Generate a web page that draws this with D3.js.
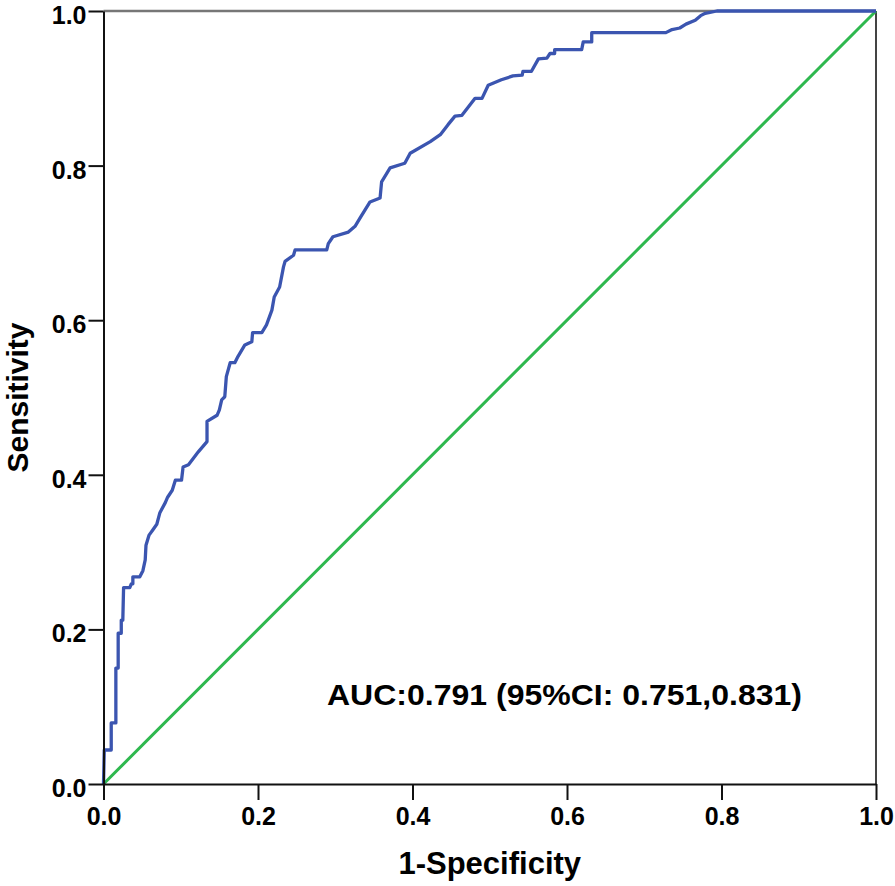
<!DOCTYPE html>
<html>
<head>
<meta charset="utf-8">
<script src="https://cdn.jsdelivr.net/npm/d3@7"></script>
<style>
  html, body { margin: 0; padding: 0; background: #fff; }
  svg { display: block; }
  text { font-family: "Liberation Sans", Arial, sans-serif; font-weight: bold; fill: #000; }
</style>
</head>
<body>
<svg id="chart" width="895" height="886"></svg>
<script>
// ROC curve points (1-Specificity, Sensitivity)
const fpr = [0, 0.001, 0.010, 0.010, 0.016, 0.016, 0.019, 0.019, 0.023, 0.023, 0.025, 0.026, 0.034, 0.036, 0.038, 0.038,
  0.047, 0.051, 0.054, 0.055, 0.059, 0.064, 0.069, 0.073, 0.080, 0.083, 0.089, 0.093, 0.101, 0.103, 0.110, 0.123,
  0.134, 0.134, 0.147, 0.150, 0.153, 0.157, 0.159, 0.164, 0.170, 0.174, 0.183, 0.192, 0.193, 0.205, 0.211, 0.218,
  0.221, 0.228, 0.233, 0.235, 0.246, 0.248, 0.289, 0.291, 0.297, 0.317, 0.326, 0.332, 0.345, 0.358, 0.360, 0.371,
  0.390, 0.397, 0.423, 0.436, 0.446, 0.455, 0.464, 0.481, 0.490, 0.498, 0.515, 0.530, 0.542, 0.543, 0.554, 0.563,
  0.574, 0.578, 0.584, 0.584, 0.619, 0.621, 0.632, 0.632, 0.728, 0.736, 0.746, 0.754, 0.766, 0.773, 0.779, 0.794, 1.0];
const tpr = [0, 0.044, 0.044, 0.079, 0.079, 0.150, 0.150, 0.195, 0.195, 0.212, 0.212, 0.254, 0.254, 0.259, 0.259, 0.268,
  0.268, 0.276, 0.290, 0.309, 0.322, 0.329, 0.336, 0.351, 0.364, 0.371, 0.380, 0.393, 0.393, 0.410, 0.413, 0.430,
  0.443, 0.469, 0.477, 0.484, 0.497, 0.501, 0.527, 0.545, 0.545, 0.553, 0.568, 0.572, 0.584, 0.584, 0.594, 0.613,
  0.630, 0.643, 0.669, 0.676, 0.684, 0.691, 0.691, 0.699, 0.708, 0.714, 0.722, 0.732, 0.753, 0.758, 0.779, 0.797,
  0.803, 0.816, 0.831, 0.840, 0.853, 0.864, 0.865, 0.887, 0.887, 0.904, 0.911, 0.916, 0.917, 0.922, 0.922, 0.938,
  0.939, 0.945, 0.945, 0.950, 0.950, 0.960, 0.960, 0.972, 0.972, 0.976, 0.978, 0.983, 0.988, 0.994, 0.997, 1.0, 1.0];
const refLine = [[0, 0], [1, 1]];
const tickValues = [0, 0.2, 0.4, 0.6, 0.8, 1.0];
const xTitle = "1-Specificity";
const yTitle = "Sensitivity";
const aucLabel = "AUC:0.791 (95%CI: 0.751,0.831)";

const svg = d3.select("#chart");
const x = d3.scaleLinear().domain([0, 1]).range([103.5, 876]);
const y = d3.scaleLinear().domain([0, 1]).range([784, 11]);

// frame (top & right)
svg.append("line").attr("x1", x(0)).attr("x2", x(1)).attr("y1", y(1)).attr("y2", y(1))
  .attr("stroke", "#777").attr("stroke-width", 2.5);
svg.append("line").attr("x1", x(1)).attr("x2", x(1)).attr("y1", y(1)).attr("y2", y(0))
  .attr("stroke", "#444").attr("stroke-width", 2);

// reference diagonal
svg.append("path").datum(refLine)
  .attr("d", d3.line().x(d => x(d[0])).y(d => y(d[1])))
  .attr("fill", "none").attr("stroke", "#2eb84e").attr("stroke-width", 3);

// ROC curve
const pts = fpr.map((f, i) => [f, tpr[i]]);
svg.append("path").datum(pts)
  .attr("d", d3.line().x(d => x(d[0])).y(d => y(d[1])))
  .attr("fill", "none").attr("stroke", "#3b55b0").attr("stroke-width", 3.3)
  .attr("stroke-linejoin", "round");

// axes
const fmt = d3.format(".1f");
const xAxis = svg.append("g").attr("transform", `translate(0,${y(0)})`)
  .call(d3.axisBottom(x).tickValues(tickValues).tickFormat(fmt).tickSize(16).tickPadding(7).tickSizeOuter(0));
const yAxis = svg.append("g").attr("transform", `translate(${x(0)},0)`)
  .call(d3.axisLeft(y).tickValues(tickValues).tickFormat(fmt).tickSize(15).tickPadding(2).tickSizeOuter(0));
[xAxis, yAxis].forEach(g => {
  g.select(".domain").attr("stroke", "#111").attr("stroke-width", 2);
  g.selectAll(".tick line").attr("stroke", "#111").attr("stroke-width", 2);
  g.selectAll(".tick text").attr("font-size", 25).attr("font-family", "Liberation Sans, Arial, sans-serif")
    .attr("font-weight", "bold").attr("fill", "#000");
});
yAxis.selectAll(".tick text").attr("dy", "0.5em");

// titles
svg.append("text").attr("x", (x(0) + x(1)) / 2).attr("y", 874)
  .attr("text-anchor", "middle").attr("font-size", 31).text(xTitle);
svg.append("text").attr("transform", `translate(28,${(y(0) + y(1)) / 2}) rotate(-90)`)
  .attr("text-anchor", "middle").attr("font-size", 30).text(yTitle);

// AUC annotation
svg.append("text").attr("x", 327).attr("y", 705).attr("font-size", 30)
  .attr("textLength", 475).attr("lengthAdjust", "spacingAndGlyphs").text(aucLabel);
</script>
</body>
</html>
